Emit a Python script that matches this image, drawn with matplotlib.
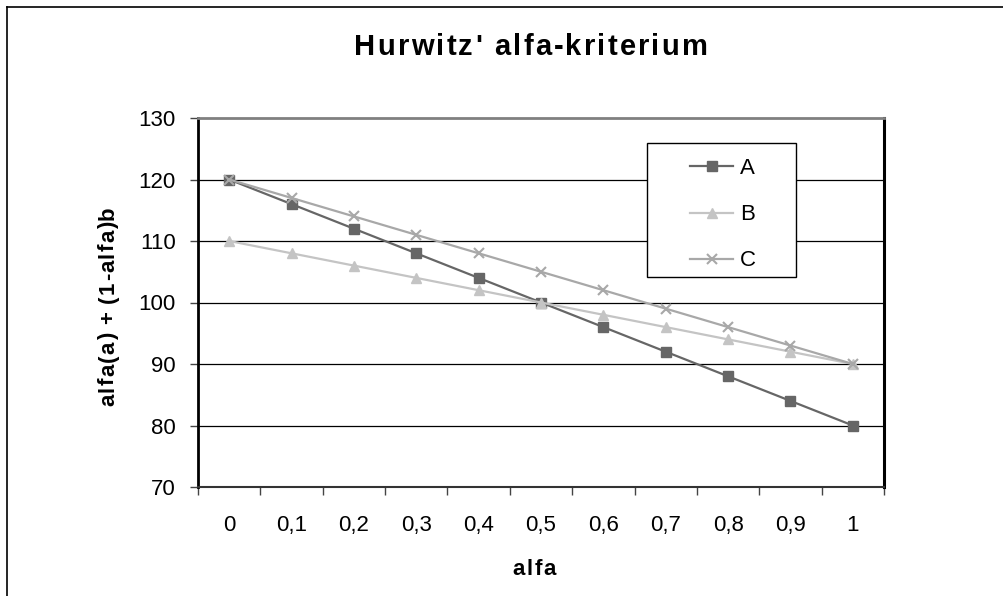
import matplotlib
matplotlib.use('Agg')
import matplotlib.pyplot as plt
from matplotlib.lines import Line2D
from matplotlib.patches import Rectangle
from matplotlib.font_manager import findfont, FontProperties
from matplotlib.ft2font import FT2Font
import numpy as np

plt.rcParams['font.family'] = ['Liberation Sans', 'DejaVu Sans']

alfa_labels = ['0', '0,1', '0,2', '0,3', '0,4', '0,5', '0,6', '0,7', '0,8', '0,9', '1']
serie_a = [120, 116, 112, 108, 104, 100, 96, 92, 88, 84, 80]
serie_b = [110, 108, 106, 104, 102, 100, 98, 96, 94, 92, 90]
serie_c = [120, 117, 114, 111, 108, 105, 102, 99, 96, 93, 90]
y_ticks = [70, 80, 90, 100, 110, 120, 130]

W, H = 1004, 596
fig = plt.figure(figsize=(W / 100, H / 100), dpi=100)
ax = fig.add_axes([198 / W, 1 - 487 / H, 686 / W, 369 / H])

bold_path = findfont(FontProperties(family='Liberation Sans', weight='bold'))


def advances(s, size):
    font = FT2Font(bold_path)
    font.set_size(size, 100)
    return [font.load_char(ord(ch)).linearHoriAdvance / 65536.0 for ch in s]


def spaced_text(s, x, y, spacing, size, rotation=0):
    # bold text with extra letter spacing, centred on x (or on y when rotated)
    adv = advances(s, size)
    total = sum(adv) + spacing * (len(s) - 1)
    pos = -total / 2
    for ch, a in zip(s, adv):
        if rotation == 0:
            fig.text((x + pos) / W, 1 - y / H, ch, ha='left', va='baseline',
                     fontsize=size, fontweight='bold')
        else:
            fig.text(x / W, 1 - (y - pos) / H, ch, ha='left', va='baseline',
                     rotation=90, rotation_mode='anchor', fontsize=size, fontweight='bold')
        pos += a + spacing


x = np.arange(len(alfa_labels))

# gridlines
for yv in y_ticks[1:-1]:
    ax.axhline(yv, color='#000000', linewidth=0.9, zorder=1)

ax.plot(x, serie_a, color='#666666', linewidth=1.6, marker='s', markersize=7.5,
        markerfacecolor='#666666', markeredgecolor='#666666', zorder=3, label='A')
ax.plot(x, serie_b, color='#c4c4c4', linewidth=1.6, marker='^', markersize=7.5,
        markerfacecolor='#c4c4c4', markeredgecolor='#c4c4c4', zorder=3, label='B')
ax.plot(x, serie_c, color='#a8a8a8', linewidth=1.6, marker='x', markersize=7.5,
        markeredgewidth=1.5, zorder=4, label='C')

ax.set_xlim(-0.5, len(alfa_labels) - 0.5)
ax.set_ylim(70, 130)
ax.set_yticks(y_ticks)
ax.set_yticklabels([str(v) for v in y_ticks], fontsize=16)

ax.set_xticks(x)
ax.set_xticklabels(alfa_labels, fontsize=16)
ax.tick_params(axis='x', which='major', length=0, pad=20)
ax.set_xticks(np.arange(-0.5, len(alfa_labels)), minor=True)
ax.tick_params(axis='x', which='minor', length=6, width=1, color='#444444', direction='out')
ax.tick_params(axis='y', which='major', length=6, width=1, color='#444444', direction='out', pad=10)

ax.spines['left'].set_color('#000000')
ax.spines['left'].set_linewidth(2)
ax.spines['bottom'].set_color('#333333')
ax.spines['bottom'].set_linewidth(1.5)
ax.spines['top'].set_color('#808080')
ax.spines['top'].set_linewidth(2)
ax.spines['right'].set_color('#000000')
ax.spines['right'].set_linewidth(2.2)

# legend box drawn separately (wider horizontal padding than vertical)
ax.add_patch(Rectangle((0.6545, 0.569), 0.2172, 0.3632, transform=ax.transAxes,
                       facecolor='white', edgecolor='#000000', linewidth=1,
                       clip_on=False, zorder=5))
leg = ax.legend(loc='upper left', bbox_to_anchor=(0.717, 0.891), fontsize=16,
                frameon=False, borderpad=0, labelspacing=1.13,
                handlelength=1.95, handletextpad=0.3, borderaxespad=0)
leg.set_zorder(6)

spaced_text("Hurwitz' alfa-kriterium", 531, 55, 2.2, 21)
spaced_text('alfa', 534, 575, 1.5, 16)
spaced_text('alfa(a) + (1-alfa)b', 114, 306, 1.2, 16, rotation=90)

# outer chart border (left and top visible)
fig.add_artist(Line2D([7 / W, 7 / W], [0, 1 - 7 / H], color='#000000', linewidth=1.2))
fig.add_artist(Line2D([7 / W, 1], [1 - 7 / H, 1 - 7 / H], color='#000000', linewidth=1.2))

fig.savefig('out.png', dpi=100)
